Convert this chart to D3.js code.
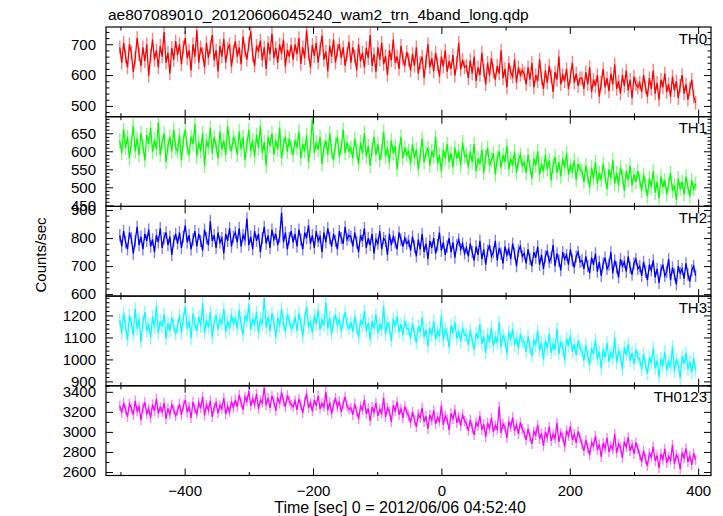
<!DOCTYPE html>
<html><head><meta charset="utf-8">
<script src="https://cdn.jsdelivr.net/npm/d3@7"></script>
<style>body{margin:0;background:#fff}svg text{font-family:"Liberation Sans",Arial,Helvetica,sans-serif}</style>
</head><body><svg id="c" width="723" height="516"></svg>
<script>
const title = "ae807089010_20120606045240_wam2_trn_4band_long.qdp";
const xLabel = "Time [sec] 0 = 2012/06/06 04:52:40";
const yLabel = "Counts/sec";
const bandNames = ["TH0", "TH1", "TH2", "TH3", "TH0123"];
const bandColors = ["#ff0000", "#00ff00", "#0000ff", "#00ffff", "#ff00ff"];
const tStart = -501, binSize = 3;
const xDomain = [-522.5, 420];
const xMajorTicks = [-400, -200, 0, 200, 400];
const xMinorTicks = [-500, -300, -100, 100, 300];

const th0 = [
690,640,705,660,625,700,672,610,655,720,668,630,690,645,700,598,662,715,650,680,625,695,660,740,640,672,605,688,650,710,
665,700,635,690,720,655,680,615,700,660,745,640,690,670,625,705,655,690,730,648,680,612,695,660,718,640,685,700,628,676,
710,660,690,635,725,680,650,700,742,665,630,695,676,712,648,690,620,705,668,735,655,688,640,700,670,715,628,682,660,698,
650,700,668,720,636,690,655,745,670,625,698,662,705,640,685,728,650,676,612,695,660,715,640,680,700,655,690,630,668,708,
640,690,660,615,700,645,672,625,688,655,730,630,668,610,690,650,705,635,662,600,680,648,715,640,660,620,695,652,630,675,
650,615,668,630,690,605,640,660,590,645,700,625,655,612,672,635,595,660,628,680,610,645,620,665,598,640,705,618,650,625,
630,590,648,605,660,580,625,600,672,615,570,640,598,655,612,585,630,605,680,590,620,560,640,608,595,650,575,625,600,615,
605,570,625,585,640,560,600,580,650,590,555,615,575,630,595,545,610,585,660,570,600,580,620,555,595,640,575,605,565,590,
590,555,610,570,625,545,585,565,600,530,575,620,560,590,548,605,570,635,555,580,540,600,565,615,550,585,525,595,570,560,
575,545,600,560,530,590,555,615,540,575,520,585,560,605,545,570,530,595,550,580,525,565,600,540,570,520,555,585,530,510];

const th1 = [
630,595,660,610,640,580,625,670,600,635,590,650,615,575,645,620,665,598,632,605,680,590,625,650,570,615,640,600,660,610,
600,645,575,630,660,610,590,640,620,675,585,625,600,650,560,630,610,665,595,640,615,580,655,605,630,590,670,620,600,640,
625,590,655,605,640,575,620,660,600,630,585,645,610,670,595,625,560,640,615,650,590,630,605,665,580,620,640,598,635,610,
590,630,610,655,580,620,600,645,570,615,690,595,625,605,640,565,610,630,590,650,600,575,620,640,585,610,660,595,625,600,
610,580,635,600,565,625,595,650,585,615,560,605,640,590,620,575,600,655,585,610,570,630,595,615,550,600,640,580,610,590,
600,565,620,580,605,550,590,635,570,595,610,560,600,585,640,565,590,545,605,580,620,570,595,555,610,580,600,560,625,585,
590,555,600,570,620,545,580,565,605,540,585,610,560,575,595,535,580,600,555,590,570,615,550,580,560,600,540,575,590,560,
570,540,590,555,525,580,560,600,535,565,545,590,550,575,520,560,585,540,570,530,580,555,595,535,560,545,575,520,565,550,
545,515,560,530,500,555,525,570,510,540,520,565,530,495,550,525,575,510,540,505,555,530,490,545,520,560,505,535,515,545,
520,490,535,505,475,525,500,545,485,515,470,530,500,520,480,510,540,490,505,465,525,495,515,480,530,500,475,520,495,510];

const th2 = [
810,770,825,785,760,820,800,745,790,840,775,805,760,815,790,830,770,795,750,810,785,835,765,800,820,775,805,740,790,815,
780,820,765,805,845,785,810,760,795,825,770,815,790,755,830,800,775,860,790,810,765,820,785,800,745,815,790,835,770,805,
820,785,835,770,810,795,870,775,805,760,825,790,815,750,800,840,780,810,765,830,795,815,775,805,890,785,820,760,800,825,
785,815,770,830,795,760,820,800,845,780,810,765,825,790,805,750,820,785,835,800,770,815,790,760,825,800,780,840,795,810,
805,770,820,785,750,810,790,835,765,800,775,815,745,795,780,825,760,800,790,740,815,775,805,785,760,820,795,770,800,780,
790,755,805,770,735,795,760,815,750,780,725,790,765,800,745,775,820,755,785,740,770,800,750,785,730,775,795,760,780,745,
765,735,780,750,720,770,740,790,725,760,705,755,775,735,750,790,720,765,745,710,770,740,760,725,780,745,700,755,770,735,
745,710,760,725,700,750,730,770,705,740,690,735,755,715,730,775,700,745,720,685,750,725,740,705,760,720,695,735,750,715,
720,690,735,700,675,730,705,745,680,715,665,710,730,690,705,750,675,720,695,660,725,700,715,680,735,695,670,710,725,690,
700,665,715,680,650,705,685,720,660,690,640,685,705,665,680,725,650,695,670,635,700,675,690,655,710,670,645,685,700,665];

const th3 = [
1180,1120,1210,1150,1090,1200,1165,1110,1230,1140,1185,1080,1170,1215,1130,1160,1100,1195,1145,1240,1120,1175,1150,1205,1095,1165,1130,1190,1155,1115,
1150,1200,1120,1185,1240,1140,1175,1095,1210,1160,1130,1195,1150,1255,1120,1180,1145,1215,1100,1170,1200,1135,1185,1160,1230,1125,1175,1140,1205,1160,
1190,1140,1225,1160,1110,1200,1175,1250,1135,1185,1155,1215,1120,1180,1160,1280,1145,1195,1130,1210,1170,1100,1190,1150,1230,1165,1125,1205,1175,1140,
1150,1195,1130,1210,1165,1105,1185,1240,1145,1175,1120,1200,1160,1225,1135,1180,1155,1260,1140,1190,1115,1170,1205,1150,1185,1125,1175,1215,1160,1140,
1170,1125,1195,1145,1100,1180,1155,1220,1130,1165,1090,1175,1140,1205,1120,1160,1135,1240,1115,1170,1145,1085,1185,1150,1195,1125,1160,1110,1175,1140,
1140,1095,1165,1115,1075,1150,1125,1190,1100,1135,1060,1145,1110,1175,1090,1130,1105,1200,1085,1140,1115,1055,1155,1120,1170,1095,1130,1080,1145,1110,
1110,1065,1135,1085,1045,1120,1095,1160,1070,1105,1030,1115,1080,1145,1060,1100,1075,1170,1055,1110,1085,1025,1125,1090,1140,1065,1100,1050,1115,1080,
1080,1035,1105,1055,1015,1090,1065,1130,1040,1075,1000,1085,1050,1115,1030,1070,1045,1140,1025,1080,1055,995,1095,1060,1110,1035,1070,1020,1085,1050,
1040,995,1065,1015,975,1050,1025,1090,1000,1035,960,1045,1010,1075,990,1030,1005,1100,985,1040,1015,955,1055,1020,1070,995,1030,980,1045,1010,
1000,955,1025,975,935,1010,985,1050,960,995,920,1005,970,1035,950,990,965,1060,945,1000,975,915,1015,980,1030,955,990,940,1005,950];

const th0123 = [
3260,3190,3290,3220,3150,3280,3235,3170,3310,3205,3250,3120,3240,3295,3180,3230,3140,3275,3210,3330,3185,3245,3200,3290,3130,3235,3175,3270,3220,3160,
3210,3280,3170,3260,3320,3195,3250,3140,3300,3225,3180,3290,3235,3350,3165,3270,3215,3310,3150,3245,3290,3185,3265,3230,3340,3175,3255,3200,3305,3240,
3320,3250,3370,3290,3220,3350,3305,3410,3260,3330,3275,3380,3230,3315,3290,3440,3265,3340,3240,3360,3300,3210,3345,3280,3395,3305,3250,3365,3310,3270,
3250,3310,3220,3330,3265,3190,3300,3385,3240,3290,3205,3320,3260,3360,3230,3285,3250,3400,3215,3295,3180,3270,3340,3245,3305,3200,3280,3350,3255,3225,
3240,3170,3280,3200,3130,3255,3220,3320,3180,3235,3110,3250,3195,3290,3160,3225,3185,3340,3150,3240,3205,3100,3265,3210,3300,3170,3230,3140,3255,3195,
3160,3090,3200,3120,3050,3175,3140,3240,3100,3155,3030,3170,3115,3215,3080,3145,3105,3260,3070,3160,3125,3020,3185,3130,3220,3090,3150,3060,3175,3110,
3080,3010,3120,3040,2970,3095,3060,3160,3020,3075,2950,3090,3035,3140,3000,3065,3025,3250,2990,3080,3045,2940,3105,3050,3145,3010,3070,2980,3095,3030,
2990,2920,3030,2950,2880,3005,2970,3070,2930,2985,2860,3000,2945,3050,2910,2975,2935,3090,2900,2990,2955,2850,3015,2960,3055,2920,2980,2890,3005,2940,
2880,2810,2920,2840,2770,2895,2860,2960,2820,2875,2750,2890,2835,2940,2800,2865,2825,2980,2790,2880,2845,2740,2905,2850,2945,2810,2870,2780,2895,2830,
2770,2700,2810,2730,2660,2785,2750,2850,2710,2765,2640,2780,2725,2830,2690,2755,2715,2870,2680,2770,2735,2630,2795,2740,2835,2700,2760,2670,2785,2720];

const bandErrors = [22, 20, 22, 30, 50];
const yDomains = [[465, 756], [447, 696], [593, 913], [880, 1288], [2565, 3460]];
const yMajorTicks = [[500, 600, 700], [450, 500, 550, 600, 650], [600, 700, 800, 900], [900, 1000, 1100, 1200], [2600, 2800, 3000, 3200, 3400]];
const yMinorStep = [20, 10, 20, 20, 100];

const series = [th0, th1, th2, th3, th0123];

const svg = d3.select("#c");
const L = 106, R = 711, T = 27, PH = 89.7;
const FS = 15;
const FONT = '"Liberation Sans",Arial,sans-serif';
const x = d3.scaleLinear().domain(xDomain).range([L, R]);

svg.append("text").attr("x", 108).attr("y", 20).attr("font-size", 15.5).attr("fill", "#000").text(title);

series.forEach((vals, i) => {
  const top = T + i * PH, bot = top + PH;
  const y = d3.scaleLinear().domain(yDomains[i]).range([bot, top]);
  const pts = vals.map((v, k) => ({t: tStart + k * binSize, v: v}));
  const clipId = "clip" + i;
  svg.append("clipPath").attr("id", clipId).append("rect").attr("x", L).attr("y", top).attr("width", R - L).attr("height", PH);
  const g = svg.append("g").attr("clip-path", `url(#${clipId})`);
  const e = bandErrors[i];
  g.selectAll("line.err").data(pts).enter().append("line")
    .attr("x1", d => x(d.t)).attr("x2", d => x(d.t))
    .attr("y1", d => y(d.v - e)).attr("y2", d => y(d.v + e))
    .attr("stroke", bandColors[i]).attr("stroke-opacity", 0.5).attr("stroke-width", 1.4);
  g.append("path").datum(pts)
    .attr("d", d3.line().x(d => x(d.t)).y(d => y(d.v)))
    .attr("fill", "none").attr("stroke", bandColors[i]).attr("stroke-width", 1.3);

  const [d0, d1] = yDomains[i];
  const step = yMinorStep[i];
  const minor = d3.range(Math.ceil(d0 / step) * step, d1 + 0.001, step).filter(v => !yMajorTicks[i].includes(v));
  const yl = svg.append("g").attr("transform", `translate(${L},0)`)
    .call(d3.axisLeft(y).tickValues(yMajorTicks[i]).tickSize(-7).tickPadding(10).tickFormat(d3.format("d")));
  yl.select(".domain").remove();
  yl.selectAll("text").attr("font-size", FS).attr("fill", "#000").attr("font-family", FONT);
  const ylm = svg.append("g").attr("transform", `translate(${L},0)`)
    .call(d3.axisLeft(y).tickValues(minor).tickSize(-3.5).tickFormat(""));
  ylm.select(".domain").remove();
  const yr = svg.append("g").attr("transform", `translate(${R},0)`)
    .call(d3.axisRight(y).tickValues(yMajorTicks[i]).tickSize(-7).tickFormat(""));
  yr.select(".domain").remove();
  const yrm = svg.append("g").attr("transform", `translate(${R},0)`)
    .call(d3.axisRight(y).tickValues(minor).tickSize(-3.5).tickFormat(""));
  yrm.select(".domain").remove();

  const xt = svg.append("g").attr("transform", `translate(0,${top})`)
    .call(d3.axisTop(x).tickValues(xMajorTicks).tickSize(-7).tickFormat(""));
  xt.select(".domain").remove();
  const xtm = svg.append("g").attr("transform", `translate(0,${top})`)
    .call(d3.axisTop(x).tickValues(xMinorTicks).tickSize(-3.5).tickFormat(""));
  xtm.select(".domain").remove();
  const last = i === series.length - 1;
  const xb = svg.append("g").attr("transform", `translate(0,${bot})`)
    .call(d3.axisBottom(x).tickValues(xMajorTicks).tickSize(-7).tickPadding(10)
      .tickFormat(last ? (d => (d < 0 ? "\u2212" + Math.abs(d) : String(d))) : ""));
  xb.select(".domain").remove();
  xb.selectAll("text").attr("font-size", FS).attr("fill", "#000").attr("font-family", FONT);
  const xbm = svg.append("g").attr("transform", `translate(0,${bot})`)
    .call(d3.axisBottom(x).tickValues(xMinorTicks).tickSize(-3.5).tickFormat(""));
  xbm.select(".domain").remove();

  svg.append("rect").attr("x", L).attr("y", top).attr("width", R - L).attr("height", PH)
    .attr("fill", "none").attr("stroke", "#000").attr("stroke-width", 1.2);

  svg.append("text").attr("x", 707).attr("y", top + 16.5).attr("text-anchor", "end")
    .attr("font-size", FS).attr("fill", "#000").text(bandNames[i]);
});

svg.selectAll(".tick line").attr("stroke", "#000").attr("stroke-width", 1);

svg.append("text").attr("x", 400).attr("y", 513).attr("text-anchor", "middle")
  .attr("font-size", 16).attr("fill", "#000").text(xLabel);
svg.append("text").attr("transform", "translate(46,255) rotate(-90)").attr("text-anchor", "middle")
  .attr("font-size", FS).attr("fill", "#000").text(yLabel);
</script></body></html>
